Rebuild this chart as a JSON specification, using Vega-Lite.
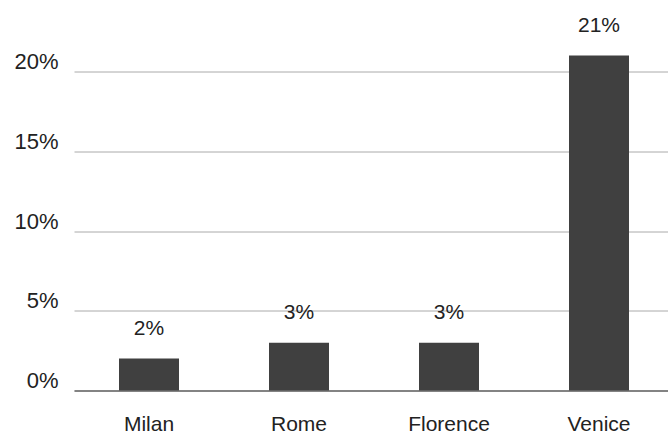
{
  "$schema": "https://vega.github.io/schema/vega-lite/v6.json",
  "width": 594,
  "height": 319,
  "autosize": "none",
  "padding": {"left": 74, "top": 71.5, "right": 0, "bottom": 43.5},
  "background": "white",
  "data": {"values": [
    {"city": "Milan", "share": 0.02},
    {"city": "Rome", "share": 0.03},
    {"city": "Florence", "share": 0.03},
    {"city": "Venice", "share": 0.21}
  ]},
  "config": {
    "view": {"stroke": null},
    "font": "Liberation Sans"
  },
  "encoding": {
    "x": {
      "field": "city", "type": "nominal", "sort": null,
      "scale": {"range": [0, 600], "paddingInner": 0.6, "paddingOuter": 0.3},
      "axis": {
        "title": null, "labelAngle": 0, "ticks": false,
        "labelPadding": 40, "labelBaseline": "alphabetic",
        "labelFontSize": 21, "labelColor": "#222",
        "domainColor": "#333", "domainWidth": 1.2, "grid": false
      }
    },
    "y": {
      "field": "share", "type": "quantitative",
      "scale": {"domain": [0, 0.2], "nice": false},
      "axis": {
        "title": null, "values": [0, 0.05, 0.1, 0.15, 0.2], "format": ".0%",
        "domain": false, "ticks": false, "labelPadding": 16,
        "labelBaseline": "alphabetic", "labelOffset": -3,
        "labelFontSize": 22, "labelColor": "#222",
        "grid": true, "gridColor": "#aaaaaa", "gridWidth": 1
      }
    }
  },
  "layer": [
    {"mark": {"type": "bar", "color": "#404040"}},
    {
      "mark": {"type": "text", "dy": -24, "baseline": "alphabetic", "fontSize": 21, "color": "#222"},
      "encoding": {"text": {"field": "share", "type": "quantitative", "format": ".0%"}}
    }
  ]
}
